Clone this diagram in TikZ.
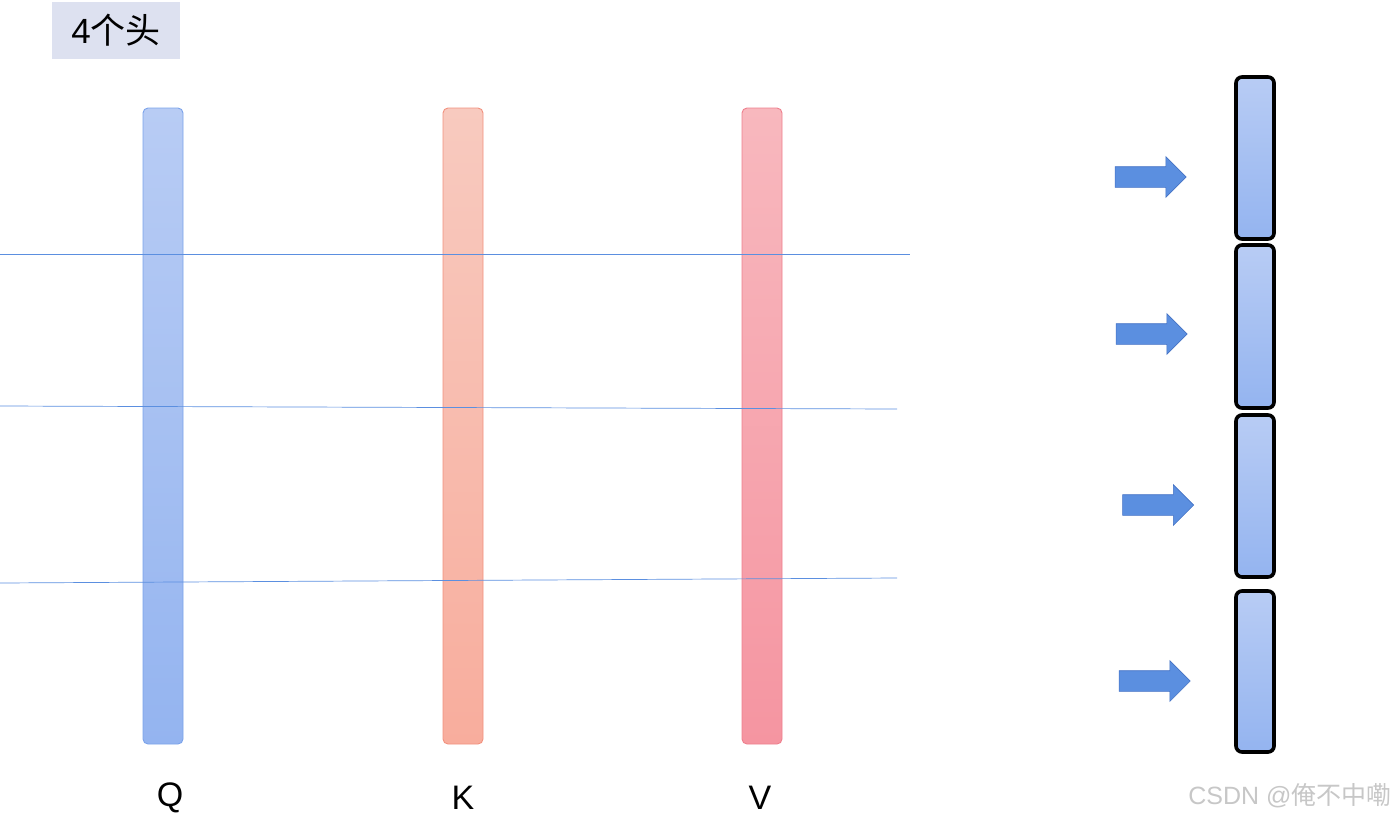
\documentclass[tikz,border=0pt]{standalone}
\usepackage{fontspec}
\setmainfont{Liberation Sans}
\newfontfamily\cjk{Noto Sans CJK SC}
\usetikzlibrary{shapes.arrows}
\definecolor{qtop}{HTML}{B8CCF4}
\definecolor{qbot}{HTML}{94B4F0}
\definecolor{qline}{HTML}{7BA3EA}
\definecolor{ktop}{HTML}{F8CABF}
\definecolor{kbot}{HTML}{F8AD9D}
\definecolor{kline}{HTML}{F2917E}
\definecolor{vtop}{HTML}{F8B8BE}
\definecolor{vbot}{HTML}{F595A1}
\definecolor{vline}{HTML}{EE7F8D}
\definecolor{cutline}{HTML}{5B8FE0}
\definecolor{arrowfill}{HTML}{5B8FE0}
\definecolor{arrowline}{HTML}{4472C4}
\definecolor{titlefill}{HTML}{DDE1F0}
\tikzset{
  bar/.style={rounded corners=5pt, minimum width=40pt, minimum height=636pt, inner sep=0pt, line width=0.9pt},
  headbox/.style={draw=black, line width=3.6pt, rounded corners=6pt, minimum width=38pt, inner sep=0pt,
    top color=qtop, bottom color=qbot},
  headarrow/.style={single arrow, draw=arrowline, fill=arrowfill, line width=0.6pt, inner xsep=0pt, inner ysep=10pt,
    minimum height=71pt, single arrow head extend=10pt, single arrow head indent=0pt},
  cut/.style={draw=cutline, line width=0.7pt},
  letter/.style={font=\fontsize{34}{40}\selectfont}
}
\begin{document}
\begin{tikzpicture}[x=1pt,y=-1pt]
\useasboundingbox (0,0) rectangle (1399,819);
% title
\node[fill=titlefill, minimum width=128pt, minimum height=57pt, inner sep=0pt,
  font=\fontsize{35}{40}\selectfont] (title) at (116,30.5) {4{\cjk 个头}};
% Q K V
\node[bar, draw=qline, top color=qtop, bottom color=qbot] (q) at (163,426) {};
\node[bar, draw=kline, top color=ktop, bottom color=kbot] (k) at (463,426) {};
\node[bar, draw=vline, top color=vtop, bottom color=vbot] (v) at (762,426) {};
\node[letter] (ql) at (170,798) {Q};
\node[letter] (kl) at (463,798) {K};
\node[letter] (vl) at (760,798) {V};
% split lines
\coordinate (a1) at (0,254);   \coordinate (b1) at (910,254);
\coordinate (a2) at (0,406);   \coordinate (b2) at (897,409);
\coordinate (a3) at (0,583);   \coordinate (b3) at (897,578);
\draw[cut] (a1) -- (b1);
\draw[cut] (a2) -- (b2);
\draw[cut] (a3) -- (b3);
% heads
\node[headbox, minimum height=162pt] (h1) at (1255,158) {};
\node[headbox, minimum height=163pt] (h2) at (1255,326.5) {};
\node[headbox, minimum height=162pt] (h3) at (1255,496) {};
\node[headbox, minimum height=161pt] (h4) at (1255,671.5) {};
\node[headarrow] (r1) at (1145.5,177) {};
\node[headarrow] (r2) at (1146.5,334) {};
\node[headarrow] (r3) at (1153,505) {};
\node[headarrow] (r4) at (1149.5,681) {};
% watermark
\node[text=black!22, font=\fontsize{25}{30}\selectfont, anchor=east] (mark) at (1395,796) {CSDN @{\cjk 俺不中嘞}};
\end{tikzpicture}
\end{document}
